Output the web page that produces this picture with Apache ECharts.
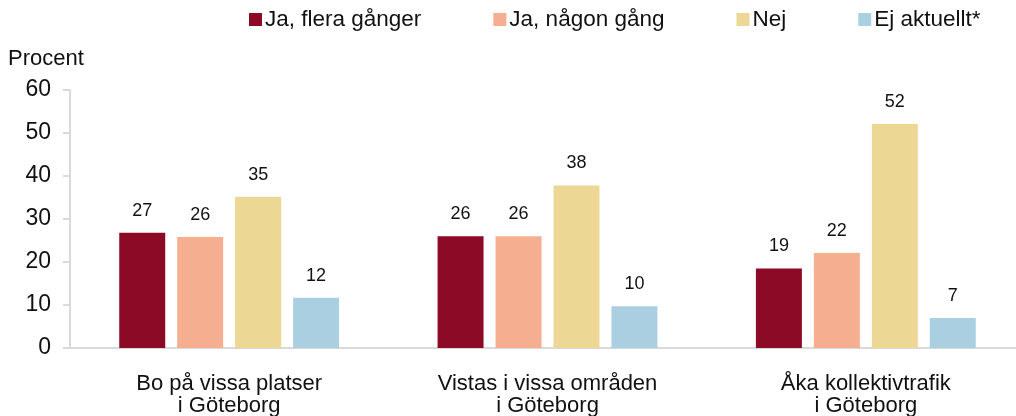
<!DOCTYPE html>
<html>
<head>
<meta charset="utf-8">
<script src="https://cdn.jsdelivr.net/npm/echarts@6/dist/echarts.min.js"></script>
<style>
  html, body { margin: 0; padding: 0; background: #fff; }
  #chart { width: 1016px; height: 416px; }
</style>
</head>
<body>
<div id="chart"></div>
<script>
const categories = ['Bo på vissa platser\ni Göteborg', 'Vistas i vissa områden\ni Göteborg', 'Åka kollektivtrafik\ni Göteborg']
const seriesNames = ['Ja, flera gånger', 'Ja, någon gång', 'Nej', 'Ej aktuellt*']
const jaFlera = [26.8, 26, 18.5]
const jaNagon = [25.8, 26, 22.1]
const nej = [35.2, 37.8, 52.1]
const ejAktuellt = [11.7, 9.7, 7]
const colors = ['#8c0a26', '#f6ae90', '#ecd795', '#aacfe0']

const values = [jaFlera, jaNagon, nej, ejAktuellt]
const labelFont = 'Liberation Sans, Arial, sans-serif'

const myChart = echarts.init(document.getElementById('chart'))

myChart.setOption({
  animation: false,
  color: colors,
  legend: {
    top: 3,
    left: 244,
    itemWidth: 13,
    itemHeight: 13,
    itemGap: 72,
    icon: 'rect',
    textStyle: {
      fontFamily: labelFont,
      fontSize: 22.5,
      color: '#111',
      padding: [0, 0, 0, -2]
    },
    data: seriesNames
  },
  grid: {
    left: 70,
    top: 90,
    bottom: 68,
    right: -9,
    outerBoundsMode: 'none'
  },
  xAxis: {
    type: 'category',
    data: categories,
    axisLine: { lineStyle: { color: '#d9d9d9', width: 2 } },
    axisTick: { show: false },
    axisLabel: {
      fontFamily: labelFont,
      fontSize: 22,
      color: '#111',
      lineHeight: 22,
      margin: 25
    }
  },
  yAxis: {
    type: 'value',
    min: 0,
    max: 60,
    interval: 10,
    name: 'Procent',
    nameLocation: 'end',
    nameGap: 20,
    nameTextStyle: {
      fontFamily: labelFont,
      fontSize: 22,
      color: '#111',
      align: 'left',
      padding: [0, 0, 0, -62]
    },
    axisLine: { show: true, lineStyle: { color: '#d9d9d9', width: 2 } },
    axisTick: { show: true, length: 7, lineStyle: { color: '#d9d9d9', width: 2 } },
    splitLine: { show: false },
    axisLabel: {
      fontFamily: labelFont,
      fontSize: 23,
      color: '#111',
      margin: 19
    }
  },
  series: seriesNames.map((name, i) => ({
    name: name,
    type: 'bar',
    data: values[i],
    barWidth: 46,
    barGap: '26%',
    label: {
      show: true,
      position: 'top',
      distance: 13,
      fontFamily: labelFont,
      fontSize: 18,
      color: '#111',
      formatter: p => Math.round(p.value)
    }
  }))
})
</script>
</body>
</html>
